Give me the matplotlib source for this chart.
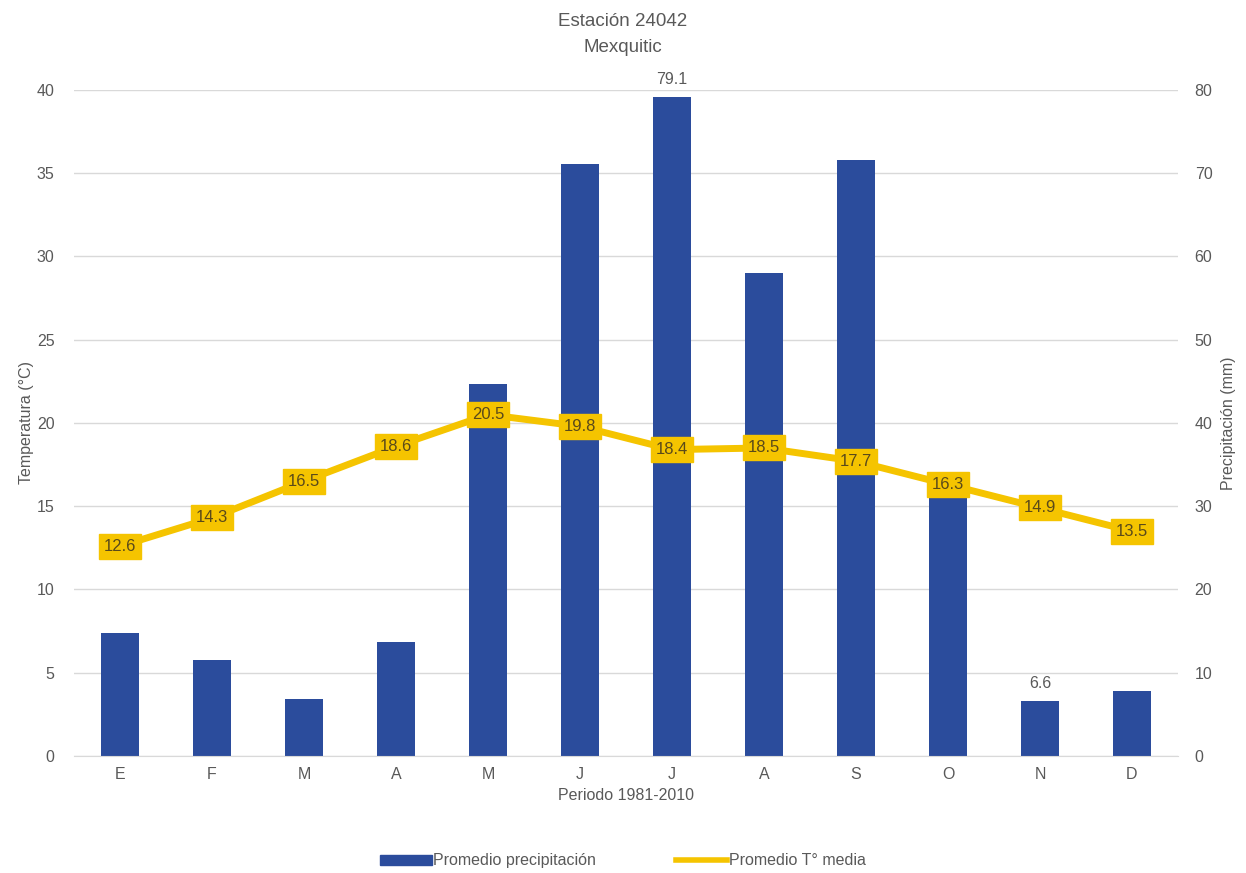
import matplotlib

matplotlib.use("Agg")

import matplotlib.pyplot as plt
from matplotlib.lines import Line2D
from matplotlib.patches import Patch

plt.rcParams["font.family"] = ["Liberation Sans", "DejaVu Sans"]

meses = ["E", "F", "M", "A", "M", "J", "J", "A", "S", "O", "N", "D"]
precipitacion = [14.8, 11.5, 6.8, 13.7, 44.7, 71.1, 79.1, 58.0, 71.6, 31.5, 6.6, 7.8]
temperatura = [12.6, 14.3, 16.5, 18.6, 20.5, 19.8, 18.4, 18.5, 17.7, 16.3, 14.9, 13.5]
etiquetas_precip = {6: "79.1", 10: "6.6"}

azul = "#2B4C9C"
oro = "#F5C400"
gris = "#595959"

fig = plt.figure(figsize=(12.46, 8.73), dpi=100)
ax_t = fig.add_axes([0.0594, 0.134, 0.886, 0.763])
ax_p = ax_t.twinx()

x = list(range(len(meses)))

# barras en el eje derecho (mm), linea en el izquierdo (°C)
ax_p.bar(x, precipitacion, width=0.42, color=azul, zorder=2)
for i, txt in etiquetas_precip.items():
    ax_p.text(i, precipitacion[i] + 1.2, txt, ha="center", va="bottom",
              fontsize=11.5, color=gris)

ax_p.set_ylim(0, 80)
ax_t.set_ylim(0, 40)
ax_t.set_xlim(-0.5, len(meses) - 0.5)

ax_t.set_zorder(ax_p.get_zorder() + 1)
ax_t.patch.set_visible(False)

ax_t.plot(x, temperatura, color=oro, linewidth=5, solid_capstyle="round", zorder=3)
for i, t in enumerate(temperatura):
    ax_t.text(i, t, f"{t:.1f}", ha="center", va="center", fontsize=12,
              color="#5a4a1a", zorder=4,
              bbox=dict(boxstyle="square,pad=0.3", fc=oro, ec=oro))

ax_t.set_yticks(range(0, 41, 5))
ax_p.set_yticks(range(0, 81, 10))
# rejilla en el eje de las barras para que quede detras de ellas
ax_p.yaxis.grid(True, color="#d9d9d9", linewidth=1, zorder=0)
ax_p.set_axisbelow(True)

ax_t.set_xticks(x)
ax_t.set_xticklabels(meses)

for a in (ax_t, ax_p):
    for s in a.spines.values():
        s.set_visible(False)
    a.tick_params(length=0, colors=gris, labelsize=11.5)
ax_t.tick_params(axis="y", pad=14)
ax_p.tick_params(axis="y", pad=12)
ax_t.tick_params(axis="x", pad=8)
ax_p.spines["bottom"].set_visible(True)
ax_p.spines["bottom"].set_color("#d9d9d9")

ax_t.set_ylabel("Temperatura (°C)", fontsize=11.5, color=gris, labelpad=2)
ax_p.set_ylabel("Precipitación (mm)", fontsize=11.5, color=gris, labelpad=6)
ax_t.set_xlabel("Periodo 1981-2010", fontsize=11.5, color=gris, labelpad=4)

fig.text(0.5, 0.975, "Estación 24042", ha="center", va="center", fontsize=13.5, color=gris)
fig.text(0.5, 0.946, "Mexquitic", ha="center", va="center", fontsize=13.5, color=gris)

handles = [
    Patch(facecolor=azul, edgecolor=azul, label="Promedio precipitación"),
    Line2D([0], [0], color=oro, linewidth=4, label="Promedio T° media"),
]
leg = fig.legend(handles=handles, loc="center", bbox_to_anchor=(0.5, 0.014),
                 ncol=2, frameon=False, fontsize=11.5, handlelength=3.2,
                 handleheight=0.6, handletextpad=0.1, columnspacing=5)
for t in leg.get_texts():
    t.set_color(gris)

fig.savefig("out.png", dpi=100)
